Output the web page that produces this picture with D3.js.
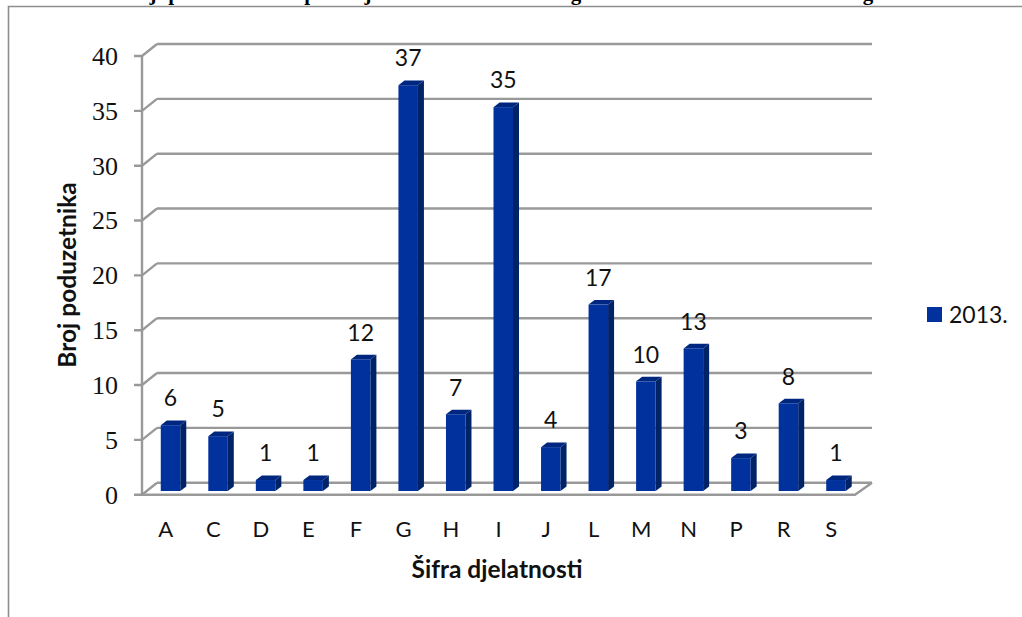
<!DOCTYPE html>
<html lang="en" dir="ltr">

<head>
  <meta charset="utf-8">
  <script src="https://d3js.org/d3.v7.min.js"></script>
  <style>
    body { margin: 0; background: #fff; }
    svg { display: block; }
    .grid-line { stroke: #999; stroke-width: 2.4; fill: none; }
    .frame { stroke: #8e8e8e; stroke-width: 1.6; fill: none; }
    .y-axis text { font-family: "Liberation Serif", serif; font-size: 26px; fill: #111; }
    .x-axis text { font-family: Lato, sans-serif; font-size: 22px; fill: #111; }
    .dot-label, .legend-label { font-family: Lato, sans-serif; font-size: 23px; fill: #111; }
    .axis-label { font-family: Lato, sans-serif; font-size: 24.5px; font-weight: 700; fill: #111; }
    .title { font-family: "Liberation Serif", serif; font-size: 21px; font-weight: 700; fill: #000; }
  </style>
</head>

<body>
  <script>
    var categories = ["A", "C", "D", "E", "F", "G", "H", "I", "J", "L", "M", "N", "P", "R", "S"];
    var values = [6, 5, 1, 1, 12, 37, 7, 35, 4, 17, 10, 13, 3, 8, 1];
    var yTicks = [0, 5, 10, 15, 20, 25, 30, 35, 40];
    var seriesName = "2013.";

    // only the descenders of the original heading are left on the page
    var titleLetters = ["j", "p", "p", "j", "g", "g"];
    var titleX = [153, 174, 310, 368, 576, 868];

    var width = 1022, height = 617;

    var wall = {dx: 15, dy: -12};   // front axis to back wall
    var bar = {left: -5, width: 19.5, dx: 6, dy: -4.6, lift: -3.7};

    var colors = {front: "#00319c", side: "#002266", top: "#00277f"};

    var svg = d3.select("body").append("svg")
      .attr("width", width)
      .attr("height", height);

    var x = d3.scaleBand().domain(categories).range([142, 855]);
    var y = d3.scaleLinear().domain([0, 40]).range([494.7, 56]);

    // outer frame, open at right and bottom
    svg.append("path")
      .attr("class", "frame")
      .attr("d", "M8.5," + height + "V6.5H" + width);

    svg.append("g")
      .selectAll("text")
      .data(titleLetters)
      .enter().append("text")
        .attr("class", "title")
        .attr("text-anchor", "middle")
        .attr("x", (d, i) => titleX[i])
        .attr("y", 0)
        .text(d => d);

    // back wall lines, side wall diagonals and tick stubs
    var grid = svg.append("g");

    grid.selectAll("line.back")
      .data(yTicks)
      .enter().append("line")
        .attr("class", "grid-line back")
        .attr("x1", x.range()[0] + wall.dx)
        .attr("x2", x.range()[1] + wall.dx + 2)
        .attr("y1", d => y(d) + wall.dy)
        .attr("y2", d => y(d) + wall.dy);

    grid.selectAll("path.side")
      .data(yTicks)
      .enter().append("path")
        .attr("class", "grid-line side")
        .attr("d", d => "M134," + y(d) + "H" + x.range()[0] + "L" + (x.range()[0] + wall.dx) + "," + (y(d) + wall.dy));

    // floor front edge and right edge
    grid.append("path")
      .attr("class", "grid-line")
      .attr("d", "M" + x.range()[0] + "," + y(0) + "H" + x.range()[1] + "L" + (x.range()[1] + wall.dx + 2) + "," + (y(0) + wall.dy));

    grid.append("line")
      .attr("class", "grid-line")
      .attr("x1", x.range()[0])
      .attr("x2", x.range()[0])
      .attr("y1", y(40))
      .attr("y2", y(0));

    var yAxis = d3.axisLeft(y)
      .tickValues(yTicks)
      .tickSize(0)
      .tickPadding(24);

    var yAxisGroup = svg.append("g")
      .attr("class", "y-axis")
      .attr("transform", "translate(" + x.range()[0] + ",0)")
      .call(yAxis);
    yAxisGroup.select(".domain").remove();

    var xAxis = d3.axisBottom(x)
      .tickSize(0)
      .tickPadding(27);

    var xAxisGroup = svg.append("g")
      .attr("class", "x-axis")
      .attr("transform", "translate(0," + y(0) + ")")
      .call(xAxis);
    xAxisGroup.select(".domain").remove();

    var bars = svg.append("g")
      .selectAll("g")
      .data(values)
      .enter().append("g")
        .attr("transform", (d, i) => "translate(" + (x(categories[i]) + x.bandwidth() / 2 + bar.left) + "," + bar.lift + ")");

    bars.append("polygon")
      .attr("fill", colors.side)
      .attr("points", d => [
        [bar.width, y(d)], [bar.width + bar.dx, y(d) + bar.dy],
        [bar.width + bar.dx, y(0) + bar.dy], [bar.width, y(0)]
      ].join(" "));

    bars.append("polygon")
      .attr("fill", colors.top)
      .attr("points", d => [
        [0, y(d)], [bar.dx, y(d) + bar.dy],
        [bar.width + bar.dx, y(d) + bar.dy], [bar.width, y(d)]
      ].join(" "));

    bars.append("rect")
      .attr("fill", colors.front)
      .attr("y", d => y(d))
      .attr("width", bar.width)
      .attr("height", d => y(0) - y(d));

    bars.append("text")
      .attr("class", "dot-label")
      .attr("text-anchor", "middle")
      .attr("x", bar.width / 2)
      .attr("y", d => y(d) - 27)
      .attr("dy", "0.36em")
      .text(d => d);

    svg.append("text")
      .attr("class", "axis-label")
      .attr("text-anchor", "middle")
      .attr("x", 497)
      .attr("y", 578)
      .text("Šifra djelatnosti");

    svg.append("text")
      .attr("class", "axis-label")
      .attr("text-anchor", "middle")
      .attr("transform", "translate(76,275) rotate(-90)")
      .text("Broj poduzetnika");

    var legend = svg.append("g")
      .attr("transform", "translate(927,307)");

    legend.append("rect")
      .attr("fill", colors.front)
      .attr("width", 15)
      .attr("height", 15);

    legend.append("text")
      .attr("class", "legend-label")
      .attr("x", 22)
      .attr("y", 8)
      .attr("dy", "0.36em")
      .text(seriesName);
  </script>
</body>

</html>
